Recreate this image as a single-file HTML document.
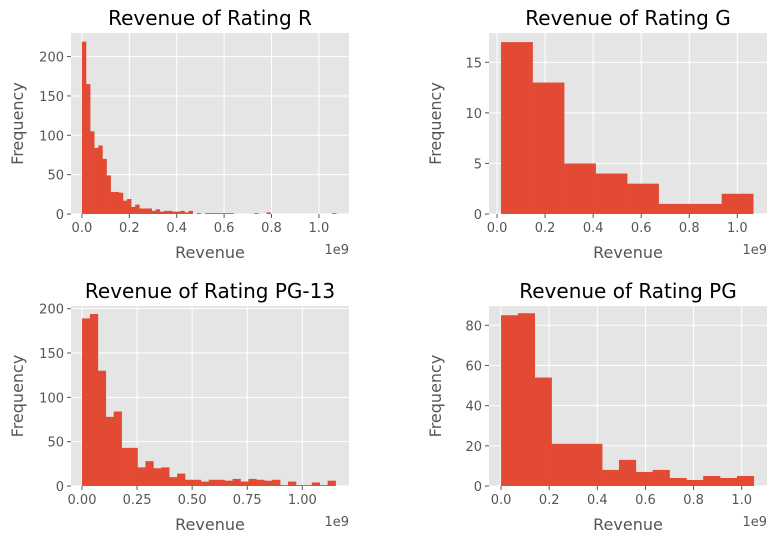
<!DOCTYPE html>
<html><head><meta charset="utf-8"><style>
body{margin:0;background:#fff;}
svg{display:block;font-family:"DejaVu Sans","Liberation Sans",sans-serif;}
</style></head><body>
<svg id="fig" width="777" height="543" viewBox="0 0 777 543"></svg>
<script>
const titles = ["Revenue of Rating R","Revenue of Rating G","Revenue of Rating PG-13","Revenue of Rating PG"];
const countsR = [219,165,105,84,87,70,49,28,28,27,17,19,9,12,7,7,7,4,6,3,4,4,3,3,4,2,4,0,1,0,1,1,1,1,1,1,1,0,0,0,0,0,1,0,0,2,0,0,0,0,0,0,0,0,0,0,0,0,0,0,0,1];
const countsG = [17,13,5,4,3,1,1,2];
const countsPG13 = [189,194,130,78,84,43,43,21,28,20,21,10,14,7,7,5,7,7,6,8,5,8,7,6,7,1,5,1,1,4,1,6];
const countsPG = [85,86,54,21,21,21,8,13,7,8,4,3,5,4,5];
const binMin = [0, 0.0166, 0, 0];
const binMax = [1.073, 1.066, 1.151, 1.05];
const xTicksR = [0,0.2,0.4,0.6,0.8,1.0];
const xTicksG = [0,0.2,0.4,0.6,0.8,1.0];
const xTicksPG13 = [0,0.25,0.5,0.75,1.0];
const xTicksPG = [0,0.2,0.4,0.6,0.8,1.0];
const xLabR = ["0.0","0.2","0.4","0.6","0.8","1.0"];
const xLabPG13 = ["0.00","0.25","0.50","0.75","1.00"];
const yTicksR = [0,50,100,150,200];
const yTicksG = [0,5,10,15];
const yTicksPG13 = [0,50,100,150,200];
const yTicksPG = [0,20,40,60,80];

const NS="http://www.w3.org/2000/svg";
const svg=document.getElementById('fig');
function mk(tag,attrs,parent){const e=document.createElementNS(NS,tag);for(const k in attrs)e.setAttribute(k,attrs[k]);(parent||svg).appendChild(e);return e;}

const panels=[
 {box:[71,33,349,214],xd:[-0.046,1.127],yd:[0,230],counts:countsR,xt:xTicksR,xl:xLabR,yt:yTicksR,name:'rating-r'},
 {box:[489,33,767,214],xd:[-0.0335,1.1235],yd:[0,17.9],counts:countsG,xt:xTicksG,xl:xLabR,yt:yTicksG,name:'rating-g'},
 {box:[71,306,349,486],xd:[-0.05,1.212],yd:[0,203],counts:countsPG13,xt:xTicksPG13,xl:xLabPG13,yt:yTicksPG13,name:'rating-pg13'},
 {box:[489,306,767,486],xd:[-0.05,1.105],yd:[0,89.6],counts:countsPG,xt:xTicksPG,xl:xLabR,yt:yTicksPG,name:'rating-pg'}
];
panels.forEach((p,i)=>{
 const [L,T,R,B]=p.box;
 const sx=v=>L+(v-p.xd[0])/(p.xd[1]-p.xd[0])*(R-L);
 const sy=v=>B-(v-p.yd[0])/(p.yd[1]-p.yd[0])*(B-T);
 const g=mk('g',{});
 
 
 const bg=mk('rect',{x:L,y:T,width:R-L,height:B-T,fill:'#e5e5e5'},g);
 
 
 p.xt.forEach(t=>{const x=sx(t);const l=mk('line',{x1:x,x2:x,y1:T,y2:B,stroke:'#fff','stroke-width':1},g);
  });
 p.yt.forEach(t=>{const y=sy(t);const l=mk('line',{x1:L,x2:R,y1:y,y2:y,stroke:'#fff','stroke-width':1},g);
  });
 const n=p.counts.length, lo=binMin[i], hi=binMax[i], w=(hi-lo)/n;
 p.counts.forEach((c,k)=>{ if(c<=0) return;
  const x0=sx(lo+k*w), x1=sx(lo+(k+1)*w);
  const r=mk('rect',{x:x0,y:sy(c),width:x1-x0+0.3,height:sy(0)-sy(c),fill:'#e24a33'},g);
  
  
 });
 p.xt.forEach((t,k)=>{const x=sx(t);
  mk('line',{x1:x,x2:x,y1:B,y2:B+4,stroke:'#555','stroke-width':1},g);
  const tx=mk('text',{x:x,y:B+18,'text-anchor':'middle','font-size':13,fill:'#555'},g);tx.textContent=p.xl[k];
  });
 p.yt.forEach(t=>{const y=sy(t);
  mk('line',{x1:L-4,x2:L,y1:y,y2:y,stroke:'#555','stroke-width':1},g);
  const tx=mk('text',{x:L-7,y:y+5,'text-anchor':'end','font-size':13,fill:'#555'},g);tx.textContent=t;
  });
 const title=mk('text',{x:(L+R)/2,y:T-8,'text-anchor':'middle','font-size':20,fill:'#000'},g);title.textContent=titles[i];
 
 const xl=mk('text',{x:(L+R)/2,y:B+44,'text-anchor':'middle','font-size':16,fill:'#555'},g);xl.textContent='Revenue';
 
 const off=mk('text',{x:R,y:B+40,'text-anchor':'end','font-size':13,fill:'#555'},g);off.textContent='1e9';
 
 const yx=L-48, yy=(T+B)/2;
 const yl=mk('text',{x:yx,y:yy,'text-anchor':'middle','font-size':16,fill:'#555',transform:`rotate(-90 ${yx} ${yy})`},g);yl.textContent='Frequency';
 
});
</script>
</body></html>
